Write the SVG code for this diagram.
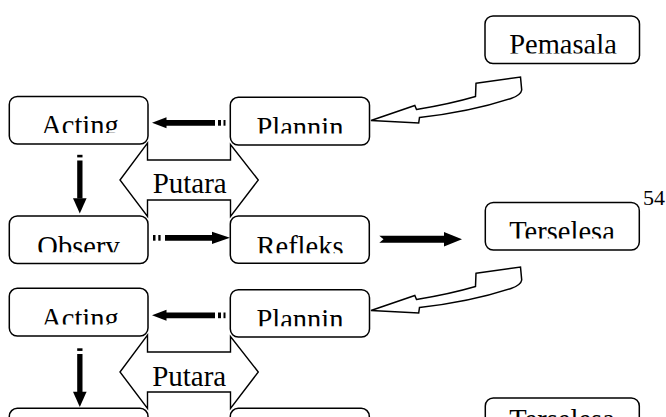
<svg xmlns="http://www.w3.org/2000/svg" width="666" height="417" viewBox="0 0 666 417">
<style>
.box{fill:#fff;stroke:#000;stroke-width:1.5}
.lbl{font-family:"Liberation Serif","Times New Roman","DejaVu Serif",serif;font-size:28.5px;fill:#000;text-anchor:middle}
.big{font-size:29px}
.num{font-family:"Liberation Serif","Times New Roman","DejaVu Serif",serif;font-size:22px;fill:#000}
.hex{fill:#fff;stroke:#000;stroke-width:1.4}
.curve{fill:#fff;stroke:#000;stroke-width:1.5;stroke-linejoin:miter}
.ar{fill:#000}
</style>
<defs>
<clipPath id="cA1"><rect x="0" y="96" width="160" height="37"/></clipPath>
<clipPath id="cP1"><rect x="220" y="97" width="160" height="36.5"/></clipPath>
<clipPath id="cO1"><rect x="0" y="216" width="160" height="36.3"/></clipPath>
<clipPath id="cR1"><rect x="220" y="216" width="160" height="37.3"/></clipPath>
<clipPath id="cPm"><rect x="480" y="16" width="170" height="37.5"/></clipPath>
<clipPath id="cT1"><rect x="480" y="202" width="170" height="36.5"/></clipPath>
<clipPath id="cA2"><rect x="0" y="288" width="160" height="36.5"/></clipPath>
<clipPath id="cP2"><rect x="220" y="289" width="160" height="37.3"/></clipPath>
<g id="hexShape"><path class="hex" d="M120,180 L147.5,143 L147.5,160 L230.5,160 L230.5,144.5 L258.3,180 L230.5,216.5 L230.5,200 L147.5,200 L147.5,216.5 Z"/></g>
<path id="curveShape" class="curve" d="M476,83.3 L520.5,77 L521.7,90 Q521,95 511,98.5 Q470,112 419.5,117.5 L418.7,123 L371,120.5 L414.8,105.5 L416.5,109.5 Q450,104 475.5,96.5 Z"/>
<g id="leftStriped"><polygon class="ar" points="152,122.8 166.5,117.3 166.5,120 215,120 215,125.7 166.5,125.7 166.5,128.3"/><rect class="ar" x="218" y="120" width="3" height="5.7"/><rect class="ar" x="223.5" y="120" width="2" height="5.7"/></g>
<g id="downStriped"><rect class="ar" x="77.2" y="154.8" width="5.3" height="2.6"/><rect class="ar" x="77.2" y="160.5" width="5.3" height="38"/><polygon class="ar" points="73,198.3 86.6,198.3 79.8,213.5"/></g>
</defs>

<g id="connectors">
<use href="#hexShape"/>
<use href="#hexShape" transform="translate(0,192)"/>
<use href="#curveShape"/>
<use href="#curveShape" transform="translate(0,190)"/>
<use href="#leftStriped"/>
<use href="#leftStriped" transform="translate(0,192.5)"/>
<use href="#downStriped"/>
<use href="#downStriped" transform="translate(0,193.5)"/>
<g id="rightStriped">
<rect class="ar" x="153" y="235" width="2.5" height="5.7"/>
<rect class="ar" x="158.3" y="235" width="2.3" height="5.7"/>
<polygon class="ar" points="165,235 212,235 212,231.7 230,237.8 212,244 212,240.7 165,240.7"/>
</g>
<polygon class="ar" points="379.3,235.8 444,235.8 444,232 462,239.3 444,246.5 444,242.8 379.3,242.8 383.5,239.3"/>
</g>

<g id="putara1"><text class="lbl big" x="189.7" y="192.6">Putara</text></g>
<g id="putara2"><text class="lbl big" x="189.2" y="385.5">Putara</text></g>

<g id="pemasala">
<rect class="box" x="485" y="16" width="154.5" height="47.5" rx="8"/>
<text class="lbl" x="563" y="54" clip-path="url(#cPm)">Pemasala</text>
</g>
<g id="acting1">
<rect class="box" x="9.3" y="96.5" width="138.7" height="47.5" rx="8"/>
<text class="lbl" x="80" y="135" clip-path="url(#cA1)">Acting</text>
</g>
<g id="planning1">
<rect class="box" x="230.3" y="97.3" width="139.2" height="47.7" rx="8"/>
<text class="lbl" x="300" y="137" clip-path="url(#cP1)">Plannin</text>
</g>
<g id="observ1">
<rect class="box" x="9.3" y="216" width="138.7" height="47.5" rx="8"/>
<text class="lbl" x="78.5" y="255.5" clip-path="url(#cO1)">Observ</text>
</g>
<g id="refleks1">
<rect class="box" x="230.3" y="216" width="139" height="47.3" rx="8"/>
<text class="lbl" x="300" y="255.7" clip-path="url(#cR1)">Refleks</text>
</g>
<g id="terselesa1">
<rect class="box" x="485.3" y="202.5" width="154" height="47.5" rx="8"/>
<text class="lbl" x="562" y="240.6" clip-path="url(#cT1)">Terselesa</text>
</g>
<text class="num" x="643" y="205">54</text>
<g id="acting2">
<rect class="box" x="9.3" y="288.3" width="138.7" height="47.7" rx="8"/>
<text class="lbl" x="80" y="327.6" clip-path="url(#cA2)">Acting</text>
</g>
<g id="planning2">
<rect class="box" x="230.3" y="289.7" width="139.2" height="47.3" rx="8"/>
<text class="lbl" x="300" y="329" clip-path="url(#cP2)">Plannin</text>
</g>
<g id="observ2">
<rect class="box" x="9.3" y="408.3" width="138.7" height="47.5" rx="8"/>
</g>
<g id="refleks2">
<rect class="box" x="230.3" y="408.3" width="139" height="47.3" rx="8"/>
</g>
<g id="terselesa2">
<rect class="box" x="485.3" y="398" width="154" height="47.5" rx="8"/>
<text class="lbl" x="562" y="429">Terselesa</text>
</g>
</svg>
